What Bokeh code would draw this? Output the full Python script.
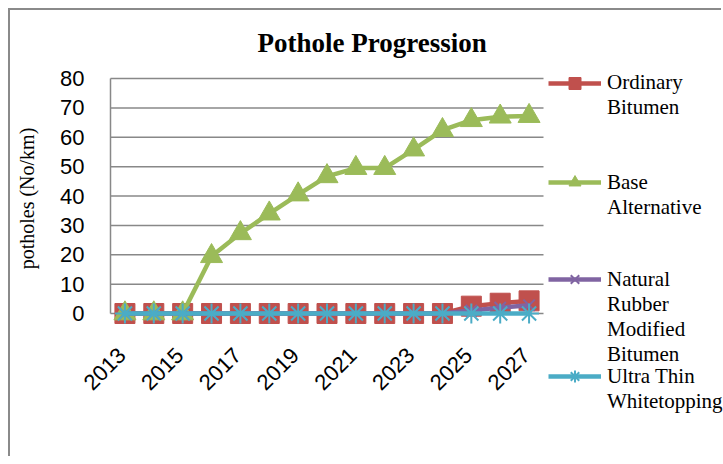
from bokeh.plotting import figure
from bokeh.models import Range1d, Legend, LegendItem
from bokeh.core.properties import value
from bokeh.embed import file_html
from bokeh.resources import INLINE
import math

years = list(range(2013, 2028))
ordinary = [0, 0, 0, 0, 0, 0, 0, 0, 0, 0, 0, 0, 2.5, 3.5, 4.3]
base = [0, 0, 0, 19.5, 27.3, 34, 40.5, 46.7, 49.5, 49.5, 55.8, 62.4, 65.8, 67, 67.2]
natural = [0, 0, 0, 0, 0, 0, 0, 0, 0, 0, 0, 0, 1.0, 2.0, 2.8]
ultra = [0] * 15
x_ticks = [2013, 2015, 2017, 2019, 2021, 2023, 2025, 2027]
y_ticks = [0, 10, 20, 30, 40, 50, 60, 70, 80]
y_title = "potholes  (No/km)"
names = ["Ordinary\nBitumen", "Base\nAlternative",
         "Natural\nRubber\nModified\nBitumen", "Ultra Thin\nWhitetopping"]

RED, GREEN, PURPLE, CYAN = "#C0504D", "#9BBB59", "#8064A2", "#4BACC6"
GRID = "#888888"

# layout (page pixels): plot area x 110..543 for 2012.5..2027.5, y 313..78 for 0..80
PX_X = 433 / 15
PX_Y = 235 / 80
AXIS_X = 110
FRAME_TOP, FRAME_BOTTOM, FRAME_LEFT, FRAME_RIGHT = 64, 430, 10, 723
x0 = years[0] - 0.5
x_start = x0 - (AXIS_X - FRAME_LEFT) / PX_X
x_end = x0 + (FRAME_RIGHT - AXIS_X) / PX_X
y_top = y_ticks[-1] + (78 - FRAME_TOP) / PX_Y
y_bot = -(FRAME_BOTTOM - 313) / PX_Y

p = figure(width=713, height=448, output_backend="svg", toolbar_location=None,
           x_range=Range1d(x_start, x_end), y_range=Range1d(y_bot, y_top),
           x_axis_location=None, y_axis_location=None,
           min_border_left=FRAME_LEFT - 10, min_border_right=0,
           min_border_top=FRAME_TOP - 10, min_border_bottom=458 - FRAME_BOTTOM)
p.styles = {"margin-left": "8px", "margin-top": "8px",
            "border-left": "2px solid #8a8a8a", "border-top": "2px solid #8a8a8a"}

p.title.text = "Pothole Progression"
p.title.text_font = "Liberation Serif"
p.title.text_font_size = "27px"
p.title.text_font_style = "bold"
p.title.text_color = "#000000"
p.title.align = "left"
p.title.offset = 247
p.title.standoff = 14

p.outline_line_color = None
p.grid.visible = False

# value axis: line, tick labels and title
p.segment(x0=[x0], x1=[x0], y0=[y_ticks[0]], y1=[y_ticks[-1]], line_color=GRID, line_width=1.5)
p.text(x=[x0] * len(y_ticks), y=y_ticks, text=[str(t) for t in y_ticks],
       text_align="right", text_baseline="middle", x_offset=-26,
       text_font=value("Liberation Sans"), text_font_size="22px", text_color="#000000")
p.text(x=[x0], y=[(y_ticks[0] + y_ticks[-1]) / 2], text=[y_title], angle=math.pi / 2,
       text_align="center", text_baseline="middle", x_offset=-84,
       text_font=value("Liberation Serif"), text_font_size="20px", text_color="#000000")

# horizontal gridlines across the plot area only
p.segment(x0=[x0] * len(y_ticks), x1=[years[-1] + 0.5] * len(y_ticks),
          y0=y_ticks, y1=y_ticks, line_color=GRID, line_width=1.5)

# slanted category labels
p.text(x=x_ticks, y=[0] * len(x_ticks), text=[str(t) for t in x_ticks], angle=math.pi / 4,
       text_align="right", text_baseline="middle", x_offset=-3, y_offset=38,
       text_font=value("Liberation Sans"), text_font_size="22px", text_color="#000000")

l1 = p.line(years, ordinary, line_color=RED, line_width=4.5)
s1 = p.scatter(years, ordinary, marker="square", size=20, fill_color=RED, line_color=RED)
l2 = p.line(years, base, line_color=GREEN, line_width=4.5)
s2 = p.scatter(years, base, marker="triangle", size=22, fill_color=GREEN, line_color=GREEN)
l3 = p.line(years, natural, line_color=PURPLE, line_width=4.5)
s3 = p.scatter(years, natural, marker="x", size=16, line_color=PURPLE, line_width=2)
l4 = p.line(years, ultra, line_color=CYAN, line_width=4.5)
s4 = p.scatter(years, ultra, marker="asterisk", size=20, line_color=CYAN, line_width=2)
pairs = [(l1, s1), (l2, s2), (l3, s3), (l4, s4)]

# legend: one sample and one text block per series
FS, LH = 21, 1.2
L = FS * LH
sample_y = [82.5, 182, 279, 376]   # page y of each sample / first text line
common = dict(padding=0, margin=0, spacing=0, border_line_color=None, background_fill_alpha=0,
              label_text_font="Liberation Serif", label_text_font_size=f"{FS}px",
              label_text_line_height=LH, label_text_color="#000000")
GH = 30
for name, pr, yc in zip(names, pairs, sample_y):
    g = Legend(items=[LegendItem(label=" ", renderers=list(pr))],
               location=(548 - FRAME_LEFT, FRAME_BOTTOM - (yc + GH / 2)),
               glyph_width=53, glyph_height=GH, label_standoff=0, label_height=GH, **common)
    n = name.count("\n") + 1
    t = Legend(items=[LegendItem(label=name, renderers=[pr[0]])],
               location=(607 - FRAME_LEFT, FRAME_BOTTOM - (yc - L / 2 + n * L)),
               glyph_width=0, glyph_height=1, label_standoff=0, label_height=1, **common)
    p.add_layout(g, "center")
    p.add_layout(t, "center")

open("out.html", "w").write(file_html(p, INLINE))
